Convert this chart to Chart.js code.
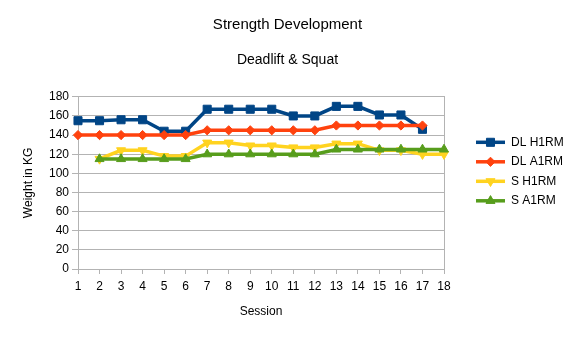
<!DOCTYPE html>
<html>
<head>
<meta charset="utf-8">
<script src="https://cdn.jsdelivr.net/npm/chart.js@4"></script>
<style>
  html, body { margin: 0; padding: 0; background: #fff; }
  #wrap { width: 575px; height: 339px; }
</style>
</head>
<body>
<div id="wrap"><canvas id="chart1"></canvas></div>
<script>
const sessions = ["1", "2", "3", "4", "5", "6", "7", "8", "9", "10", "11", "12", "13", "14", "15", "16", "17", "18"];
const dlH1rm = [155, 155, 156, 156, 144, 144, 167, 167, 167, 167, 160, 160, 170, 170, 161, 161, 146, null];
const dlA1rm = [140, 140, 140, 140, 140, 140, 145, 145, 145, 145, 145, 145, 150, 150, 150, 150, 150, null];
const sH1rm = [null, 115, 124, 124, 118, 118, 132, 132, 129, 129, 127, 127, 131, 131, 124, 124, 120, 120];
const sA1rm = [null, 115, 115, 115, 115, 115, 120, 120, 120, 120, 120, 120, 125, 125, 125, 125, 125, 125];
const yTicks = [0, 20, 40, 60, 80, 100, 120, 140, 160, 180];

const gridGrey = '#b3b3b3';

Chart.defaults.font.family = "'Liberation Sans', Arial, sans-serif";
Chart.defaults.font.size = 12;
Chart.defaults.color = '#000';

function series(label, data, color, style, radius, rotation, order) {
    return {
        label: label,
        data: data,
        borderColor: color,
        backgroundColor: color,
        borderWidth: 3.5,
        pointStyle: style,
        pointRadius: radius,
        pointRotation: rotation,
        pointBackgroundColor: color,
        pointBorderColor: color,
        pointBorderWidth: 1,
        tension: 0,
        order: order
    };
}

// line + marker legend drawn in the space kept free on the right
const sideLegend = {
    id: 'sideLegend',
    afterDraw(chart) {
        const ctx = chart.ctx;
        const area = chart.chartArea;
        const x0 = area.right + 32;
        let y = area.top + 45.5;
        ctx.save();
        chart.data.datasets.forEach(ds => {
            ctx.strokeStyle = ds.borderColor;
            ctx.lineWidth = ds.borderWidth;
            ctx.beginPath();
            ctx.moveTo(x0, y);
            ctx.lineTo(x0 + 29, y);
            ctx.stroke();
            ctx.fillStyle = ds.pointBackgroundColor;
            ctx.strokeStyle = ds.pointBorderColor;
            ctx.lineWidth = 1;
            Chart.helpers.drawPoint(ctx, {
                pointStyle: ds.pointStyle,
                radius: ds.pointRadius,
                rotation: ds.pointRotation,
                borderWidth: 1
            }, x0 + 14.5, y);
            ctx.fillStyle = '#000';
            ctx.font = "12px 'Liberation Sans', Arial, sans-serif";
            ctx.textBaseline = 'middle';
            ctx.textAlign = 'left';
            ctx.fillText(ds.label, x0 + 35, y);
            y += 19.5;
        });
        ctx.restore();
    }
};

new Chart("chart1", {
    type: "line",
    data: {
        labels: sessions,
        datasets: [
            series("DL H1RM", dlH1rm, '#004586', 'rect', 5.7, 0, 4),
            series("DL A1RM", dlA1rm, '#ff420e', 'rectRot', 4.6, 0, 3),
            series("S H1RM", sH1rm, '#ffd320', 'triangle', 5.2, 180, 2),
            series("S A1RM", sA1rm, '#579d1c', 'triangle', 5.2, 0, 1)
        ]
    },
    plugins: [sideLegend],
    options: {
        responsive: true,
        maintainAspectRatio: false,
        animation: false,
        plugins: {
            legend: { display: false },
            tooltip: { enabled: false },
            title: {
                display: true,
                text: 'Strength Development',
                font: { size: 15, weight: 'normal' },
                padding: { top: 16, bottom: 10 }
            },
            subtitle: {
                display: true,
                text: 'Deadlift & Squat',
                font: { size: 14 },
                padding: { top: 8, bottom: 28 }
            }
        },
        scales: {
            x: {
                offset: false,
                grid: {
                    drawOnChartArea: false,
                    tickLength: 5,
                    tickColor: gridGrey
                },
                border: { color: gridGrey },
                ticks: { padding: 5, maxRotation: 0, autoSkip: false },
                title: {
                    display: true,
                    text: 'Session',
                    font: { size: 12 },
                    padding: { top: 0, bottom: 20 }
                },
                afterFit: s => { s.height = 70; }
            },
            y: {
                min: 0,
                max: 180,
                afterBuildTicks: s => { s.ticks = yTicks.map(v => ({ value: v })); },
                grid: {
                    color: gridGrey,
                    tickLength: 6,
                    tickColor: gridGrey
                },
                border: { color: gridGrey },
                ticks: { padding: 3 },
                title: {
                    display: true,
                    text: 'Weight in KG',
                    font: { size: 12 },
                    padding: { top: 21, bottom: 0 }
                },
                afterFit: s => { s.width = 78; }
            },
            frame: {
                type: 'linear',
                position: 'right',
                grid: { display: false },
                ticks: { display: false },
                border: { display: true, color: gridGrey },
                afterFit: s => { s.width = 131; }
            }
        }
    }
});
</script>
</body>
</html>
